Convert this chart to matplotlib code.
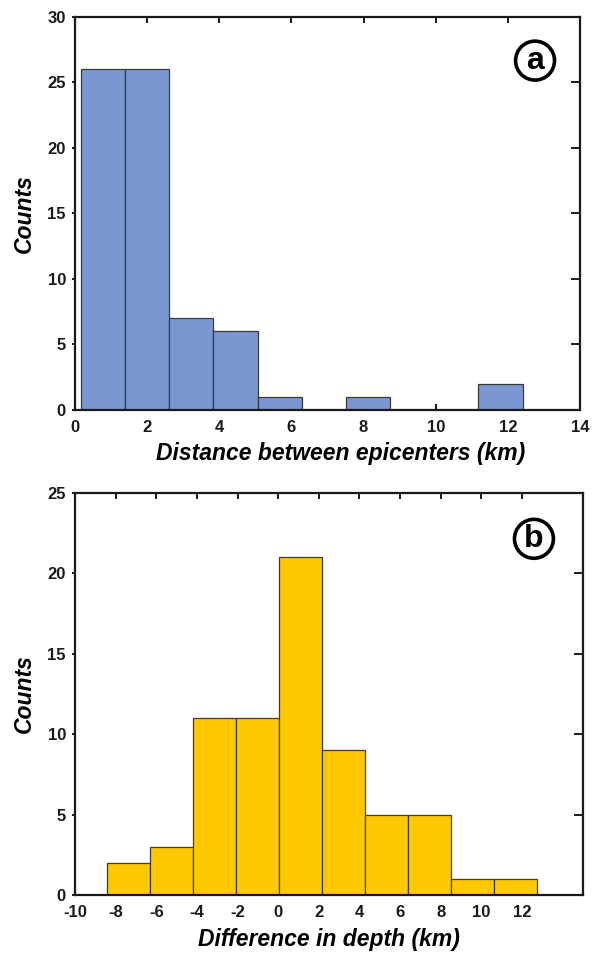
import matplotlib
matplotlib.use("Agg")
import matplotlib.pyplot as plt
import numpy as np

plt.rcParams['font.family'] = ['Liberation Sans', 'DejaVu Sans']
plt.rcParams['axes.unicode_minus'] = False

# Panel a: distance between epicenters
dist_edges = [0.16, 1.38, 2.61, 3.83, 5.06, 6.28, 7.51, 8.73, 9.96, 11.18, 12.41]
dist_counts = [26, 26, 7, 6, 1, 0, 1, 0, 0, 2]
dist_xticks = [0, 2, 4, 6, 8, 10, 12, 14]
dist_yticks = [0, 5, 10, 15, 20, 25, 30]

# Panel b: difference in depth
depth_edges = [-8.44, -6.32, -4.20, -2.08, 0.04, 2.16, 4.28, 6.40, 8.52, 10.64, 12.76]
depth_counts = [2, 3, 11, 11, 21, 9, 5, 5, 1, 1]
depth_xticks = [-10, -8, -6, -4, -2, 0, 2, 4, 6, 8, 10, 12]
depth_yticks = [0, 5, 10, 15, 20, 25]

fig = plt.figure(figsize=(5.97, 9.55), dpi=100)
ax1 = fig.add_axes([0.1256, 0.5707, 0.8459, 0.4115])
ax2 = fig.add_axes([0.1256, 0.0628, 0.8509, 0.4210])


def draw(ax, edges, counts, color, xlim, ylim, xticks, yticks, xlabel, letter, lpos):
    e = np.array(edges)
    ax.bar(e[:-1], counts, width=np.diff(e), align='edge', color=color,
           edgecolor='#3a3a3a', linewidth=0.9, zorder=2)
    ax.set_xlim(*xlim)
    ax.set_ylim(*ylim)
    ax.set_xticks(xticks)
    ax.set_yticks(yticks)
    for s in ax.spines.values():
        s.set_linewidth(1.6)
        s.set_color('#1a1a1a')
    ax.tick_params(axis='both', which='both', labelsize=12, width=1.4,
                   length=4, color='#1a1a1a')
    ax.tick_params(axis='x', direction='in', top=True, bottom=True, pad=7)
    ax.tick_params(axis='y', direction='out', left=True, right=False, length=2.5, pad=4)
    for lab in ax.get_xticklabels() + ax.get_yticklabels():
        lab.set_fontweight('bold')
        lab.set_color('#1a1a1a')
    # inward right ticks
    for yt in yticks[1:-1]:
        ax.plot([1.0, 0.985], [yt, yt], transform=ax.get_yaxis_transform(),
                color='#1a1a1a', lw=1.4, clip_on=False, zorder=5)
    ax.set_xlabel(xlabel, fontsize=16.5, fontweight='bold', fontstyle='italic', labelpad=6)
    ax.set_ylabel('Counts', fontsize=16.5, fontweight='bold', fontstyle='italic', labelpad=8)
    ax.text(lpos[0], lpos[1], letter, transform=ax.transAxes, fontsize=23,
            fontweight='bold', ha='center', va='center',
            bbox=dict(boxstyle='circle,pad=0.14', fc='white', ec='black', lw=2.6))


draw(ax1, dist_edges, dist_counts, '#7B97D1', (0, 14), (0, 30), dist_xticks,
     dist_yticks, 'Distance between epicenters (km)', 'a', (0.911, 0.889))
ax1.xaxis.set_label_coords(0.526, -0.082)

draw(ax2, depth_edges, depth_counts, '#FFC900', (-10, 15), (0, 25), depth_xticks,
     depth_yticks, 'Difference in depth (km)', 'b', (0.9035, 0.886))

fig.savefig('out.png', dpi=100)
